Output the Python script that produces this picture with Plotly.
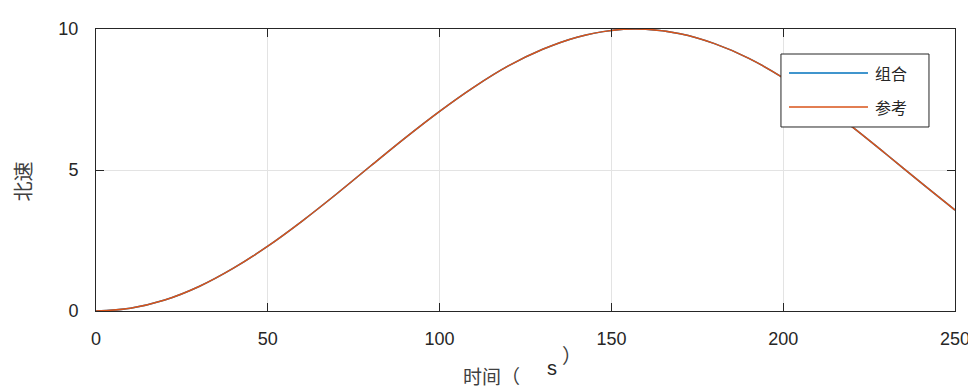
import plotly.graph_objects as go

# North velocity over time (s), sampled every 10 s
t = [0, 10, 20, 30, 40, 50, 60, 70, 80, 90, 100, 110, 120, 130, 140, 150,
     160, 170, 180, 190, 200, 210, 220, 230, 240, 250]
v_combined = [0.00, 0.10, 0.39, 0.87, 1.52, 2.30, 3.19, 4.15, 5.15, 6.14, 7.08,
              7.94, 8.69, 9.28, 9.71, 9.95, 9.99, 9.83, 9.48, 8.96, 8.27, 7.45,
              6.54, 5.56, 4.56, 3.58]
v_reference = [0.00, 0.10, 0.39, 0.87, 1.52, 2.30, 3.19, 4.15, 5.15, 6.14, 7.08,
               7.94, 8.69, 9.28, 9.71, 9.95, 9.99, 9.83, 9.48, 8.96, 8.27, 7.45,
               6.54, 5.56, 4.56, 3.58]
series_names = ["组合", "参考"]
x_ticks = [0, 50, 100, 150, 200, 250]
y_ticks = [0, 5, 10]

BLUE = "#0072BD"
RED = "#D95319"
AX = "#262626"
NUM_FONT = "Liberation Sans, Arial, sans-serif"
CJK_FONT = "Noto Sans CJK SC, sans-serif"

fig = go.Figure()
fig.add_trace(go.Scatter(x=t, y=v_combined, mode="lines", name=series_names[0],
                         line=dict(color=BLUE, width=1.5, shape="spline"),
                         showlegend=False))
fig.add_trace(go.Scatter(x=t, y=v_reference, mode="lines", name=series_names[1],
                         line=dict(color=RED, width=1.5, shape="spline"),
                         showlegend=False))

axis_common = dict(showline=True, linecolor=AX, linewidth=1, mirror="ticks",
                   ticks="inside", ticklen=8, tickcolor=AX, tickwidth=1,
                   showgrid=True, gridcolor="#E3E3E3", gridwidth=1,
                   zeroline=False, ticklabeloverflow="allow", automargin=False,
                   tickfont=dict(family=NUM_FONT, size=18, color=AX))

fig.update_xaxes(range=[0, 250], tickvals=x_ticks, ticklabelstandoff=11, **axis_common)
fig.update_yaxes(range=[0, 10], tickvals=y_ticks, ticklabelstandoff=13, **axis_common)

# legend box with long sample lines
shapes = [
    dict(type="rect", xref="paper", yref="paper", x0=0.7974, x1=0.9697,
         y0=0.6525, y1=0.9113, line=dict(color=AX, width=1), fillcolor="white"),
    dict(type="line", xref="paper", yref="paper", x0=0.8068, x1=0.8987,
         y0=0.844, y1=0.844, line=dict(color=BLUE, width=1.5)),
    dict(type="line", xref="paper", yref="paper", x0=0.8068, x1=0.8987,
         y0=0.7234, y1=0.7234, line=dict(color=RED, width=1.5)),
]
annotations = [
    dict(text=series_names[0], xref="paper", yref="paper", x=0.9045, y=0.844,
         xanchor="left", yanchor="middle", showarrow=False,
         font=dict(family=CJK_FONT, size=16, color=AX)),
    dict(text=series_names[1], xref="paper", yref="paper", x=0.9045, y=0.7234,
         xanchor="left", yanchor="middle", showarrow=False,
         font=dict(family=CJK_FONT, size=16, color=AX)),
    # axis titles
    dict(text="北速", xref="paper", yref="paper", x=-0.086, y=0.46,
         xanchor="center", yanchor="middle", textangle=-90, showarrow=False,
         font=dict(family=CJK_FONT, size=20, color="#404040")),
    dict(text="时间（", xref="paper", yref="paper", x=0.4610, y=-0.2270,
         xanchor="center", yanchor="middle", showarrow=False,
         font=dict(family=CJK_FONT, size=19, color="#404040")),
    dict(text="s", xref="paper", yref="paper", x=0.5308, y=-0.202,
         xanchor="center", yanchor="middle", showarrow=False,
         font=dict(family=NUM_FONT, size=20, color=AX)),
    dict(text="）", xref="paper", yref="paper", x=0.5545, y=-0.156,
         xanchor="center", yanchor="middle", showarrow=False,
         font=dict(family=CJK_FONT, size=20, color="#404040")),
]

fig.update_layout(
    width=968, height=390,
    margin=dict(l=96, r=13, t=29, b=79),
    paper_bgcolor="white", plot_bgcolor="white",
    shapes=shapes, annotations=annotations,
    showlegend=False,
)

fig.write_html("out.html")
